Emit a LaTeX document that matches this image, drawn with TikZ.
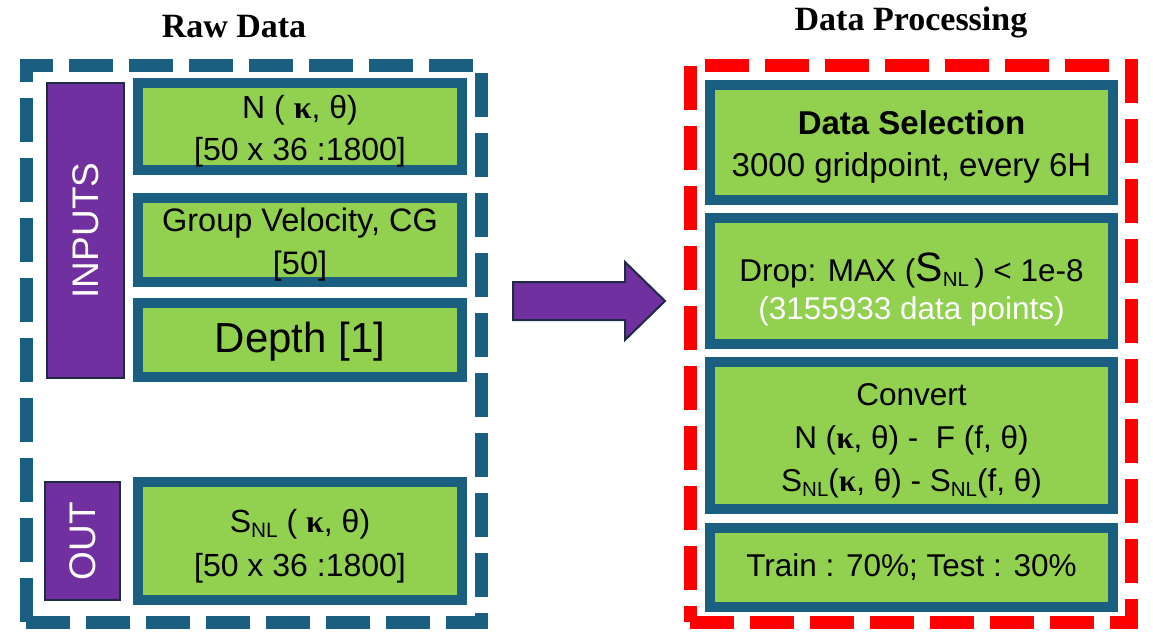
\documentclass[tikz,border=0pt]{standalone}
\usepackage{fontspec}
\setmainfont{Liberation Sans}
\newfontfamily\titlefont{Liberation Serif}
\newfontfamily\kapfont{Liberation Serif}
\definecolor{boxgreen}{HTML}{92D050}
\definecolor{boxteal}{HTML}{1A5E80}
\definecolor{barpurple}{HTML}{7030A0}
\definecolor{bardark}{HTML}{1F2A44}
\definecolor{dashred}{HTML}{FF0000}
\newcommand\kap{{\kapfont\bfseries κ}}
\newcommand\snlsub{\raisebox{-0.3ex}{\scalebox{0.65}{NL}}}
\newcommand\snl{S\snlsub}
\newcommand\topstrut[1]{\rule{0pt}{#1}}
\begin{document}
\begin{tikzpicture}[x=1pt,y=-1pt,
  titletext/.style={font=\titlefont\bfseries\fontsize{34}{38}\selectfont, inner sep=0pt},
  gbox/.style={draw=boxteal, line width=10pt, fill=boxgreen, inner sep=0pt, align=center, text=black},
  pbar/.style={draw=bardark, line width=2pt, fill=barpurple, inner sep=0pt, text=white, rotate=90},
  dashbox/.style={line width=13pt, dash pattern=on 44pt off 16pt, inner sep=0pt},
  blockarrow/.style={draw=bardark, line width=2pt, fill=barpurple, line join=miter}
]
\useasboundingbox (0,0) rectangle (1153,635);
\fill[white] (0,0) rectangle (1153,635);

% titles
\node[titletext] (t1) at (234,27) {Raw Data};
\node[titletext] (t2) at (911,22) {Data Processing};

% dashed frames
\node[dashbox, draw=boxteal, minimum width=455pt, minimum height=557pt] (raw) at (253.5,343.5) {};
\node[dashbox, draw=dashred, minimum width=441pt, minimum height=557pt] (proc) at (910.5,343.5) {};

% purple bars
\node[pbar, minimum width=295pt, minimum height=77pt, font=\fontsize{37}{40}\selectfont] (inputs) at (85.5,230.5) {INPUTS};
\node[pbar, minimum width=118pt, minimum height=75pt, font=\fontsize{37}{40}\selectfont] (out) at (82.5,541) {OUT};

% left boxes
\node[gbox, minimum width=324pt, minimum height=87pt, font=\fontsize{32}{42}\selectfont] (n) at (300,126.5)
  {\topstrut{33pt}N ( \kap, θ)\\{[}50 x 36 :1800{]}};
\node[gbox, minimum width=324pt, minimum height=84pt, font=\fontsize{32.5}{43}\selectfont] (cg) at (300,240)
  {\topstrut{33pt}Group Velocity, CG\\{[}50{]}};
\node[gbox, minimum width=324pt, minimum height=74pt, font=\fontsize{42}{44}\selectfont] (depth) at (300,340)
  {\topstrut{33pt}Depth {[}1{]}};
\node[gbox, minimum width=324pt, minimum height=118pt, font=\fontsize{32}{44}\selectfont] (snl) at (300,541)
  {\topstrut{33pt}\snl\ ( \kap, θ)\\{[}50 x 36 :1800{]}};

% right boxes
\node[gbox, minimum width=403pt, minimum height=115pt, font=\fontsize{33}{42}\selectfont] (sel) at (911.5,142.5)
  {\topstrut{33pt}\textbf{Data Selection}\\3000 gridpoint, every 6H};
\node[gbox, minimum width=403pt, minimum height=126pt, font=\fontsize{31.5}{38}\selectfont] (drop) at (911.5,281)
  {\topstrut{46pt}Drop: MAX ({\fontsize{41}{38}\selectfont S}\snlsub\,) < 1e-8\\\textcolor{white}{(3155933 data points)}};
\node[gbox, minimum width=403pt, minimum height=147pt, font=\fontsize{31.5}{43}\selectfont] (conv) at (911.5,435.5)
  {\topstrut{33pt}Convert\\N (\kap, θ) -~ F (f, θ)\\\snl(\kap, θ) - \snl(f, θ)};
\node[gbox, minimum width=403pt, minimum height=79pt, font=\fontsize{31.5}{40}\selectfont] (split) at (911.5,567.5)
  {Train : 70\%; Test : 30\%};

% block arrow between the two frames
\coordinate (a0) at (513,301);
\coordinate (a1) at (665,301);
\draw[blockarrow] (a0) ++(0,-19) -- (625,282) -- (625,262) -- (a1) -- (625,340) -- (625,320) -- (513,320) -- cycle;
\end{tikzpicture}
\end{document}
